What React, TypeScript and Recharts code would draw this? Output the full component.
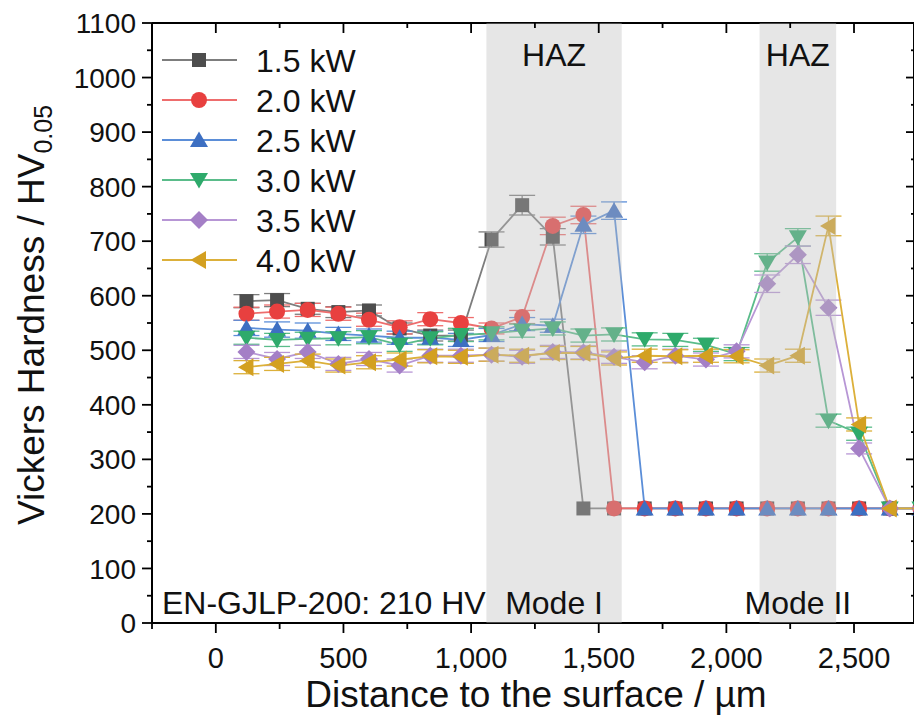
import React from 'react';
import { LineChart, Line, XAxis, YAxis, ErrorBar, ReferenceArea, Legend } from 'recharts';

// ---------- data ----------
const distances = [120, 240, 360, 480, 600, 720, 840, 960, 1080, 1200, 1320, 1440, 1560, 1680, 1800, 1920, 2040, 2160, 2280, 2400, 2520, 2640, 2760];

const hv15 = [590, 592, 576, 570, 573, 540, 527, 527, 703, 766, 708, 210, 210, 210, 210, 210, 210, 210, 210, 210, 210, 210, 210];
const err15 = [12, 12, 10, 10, 10, 10, 10, 10, 14, 18, 15, 0, 0, 0, 0, 0, 0, 0, 0, 0, 0, 0, 0];

const hv20 = [567, 571, 574, 567, 556, 542, 557, 550, 540, 561, 728, 748, 210, 210, 210, 210, 210, 210, 210, 210, 210, 210, 210];
const err20 = [12, 12, 12, 12, 12, 12, 12, 10, 10, 12, 16, 16, 0, 0, 0, 0, 0, 0, 0, 0, 0, 0, 0];

const hv25 = [541, 538, 536, 530, 527, 523, 523, 519, 528, 548, 545, 730, 756, 210, 210, 210, 210, 210, 210, 210, 210, 210, 210];
const err25 = [14, 14, 14, 12, 12, 12, 12, 12, 12, 12, 12, 16, 16, 0, 0, 0, 0, 0, 0, 0, 0, 0, 0];

const hv30 = [523, 519, 521, 522, 524, 510, 522, 528, 531, 536, 540, 527, 529, 520, 519, 510, 493, 661, 707, 371, 347, 210, 210];
const err30 = [12, 12, 12, 12, 12, 12, 12, 12, 12, 12, 12, 12, 12, 12, 12, 12, 12, 16, 16, 12, 12, 0, 0];

const hv35 = [497, 484, 497, 475, 484, 472, 490, 490, 492, 488, 497, 496, 488, 478, 490, 483, 498, 622, 675, 578, 320, 210, 210];
const err35 = [12, 12, 12, 12, 12, 12, 12, 12, 12, 12, 12, 12, 12, 12, 12, 12, 12, 16, 16, 14, 10, 0, 0];

const hv40 = [469, 475, 481, 472, 478, 483, 489, 488, 492, 490, 495, 495, 485, 490, 489, 490, 489, 472, 490, 728, 364, 210, 210];
const err40 = [12, 12, 12, 12, 12, 12, 12, 12, 12, 12, 12, 12, 12, 12, 12, 12, 12, 12, 12, 18, 12, 0, 0];

const seriesNames = ['1.5 kW', '2.0 kW', '2.5 kW', '3.0 kW', '3.5 kW', '4.0 kW'];
const seriesValues = [hv15, hv20, hv25, hv30, hv35, hv40];
const seriesErrors = [err15, err20, err25, err30, err35, err40];

const xTicks = [-250, 0, 250, 500, 750, 1000, 1250, 1500, 1750, 2000, 2250, 2500];
const yTicks = [0, 50, 100, 150, 200, 250, 300, 350, 400, 450, 500, 550, 600, 650, 700, 750, 800, 850, 900, 950, 1000, 1050, 1100];

const hazZones = [
  { from: 1060, to: 1590, label: 'HAZ', mode: 'Mode I' },
  { from: 2130, to: 2430, label: 'HAZ', mode: 'Mode II' },
];

const baseMaterialText = 'EN-GJLP-200: 210 HV';
const xTitle = 'Distance to the surface / µm';
const yTitleMain = 'Vickers Hardness / HV';
const yTitleSub = '0.05';

// ---------- styles ----------
const FONT = '"Liberation Sans", Arial, Helvetica, sans-serif';
const styles = [
  { marker: '#4d4d4d', line: '#7d7d7d', shape: 'square' },
  { marker: '#e8403f', line: '#ee6d6d', shape: 'circle' },
  { marker: '#3d6fc2', line: '#5b8ed8', shape: 'up' },
  { marker: '#2eaa6b', line: '#5abc8a', shape: 'down' },
  { marker: '#a47fc6', line: '#b796d5', shape: 'diamond' },
  { marker: '#d3a021', line: '#dcb03a', shape: 'left' },
];

const seriesRows = seriesValues.map((vals, s) =>
  distances.map((x, i) => ({ x, hv: vals[i], err: seriesErrors[s][i] }))
);

function Marker({ shape, cx, cy, fill }: { shape: string; cx: number; cy: number; fill: string }) {
  switch (shape) {
    case 'square':
      return <rect x={cx - 7} y={cy - 7} width={14} height={14} fill={fill} />;
    case 'circle':
      return <circle cx={cx} cy={cy} r={8} fill={fill} />;
    case 'up':
      return <polygon points={`${cx},${cy - 8.5} ${cx + 9},${cy + 7} ${cx - 9},${cy + 7}`} fill={fill} />;
    case 'down':
      return <polygon points={`${cx},${cy + 8.5} ${cx + 9},${cy - 7} ${cx - 9},${cy - 7}`} fill={fill} />;
    case 'diamond':
      return <polygon points={`${cx},${cy - 9} ${cx + 9},${cy} ${cx},${cy + 9} ${cx - 9},${cy}`} fill={fill} />;
    case 'left':
      return <polygon points={`${cx - 8.5},${cy} ${cx + 7},${cy - 9} ${cx + 7},${cy + 9}`} fill={fill} />;
    default:
      return null;
  }
}

// ---------- ticks ----------
const BottomTick = (props: any) => {
  const { x, y, payload } = props;
  const v = payload.value;
  const major = v % 500 === 0;
  return (
    <g>
      <line x1={x} x2={x} y1={y} y2={y + (major ? 10 : 6)} stroke="#000" strokeWidth={1.8} />
      {major && v >= 0 && (
        <text x={x} y={y + 45} textAnchor="middle" fontSize={29} fontFamily={FONT} fill="#111">
          {v.toLocaleString('en-US')}
        </text>
      )}
    </g>
  );
};

const TopTick = (props: any) => {
  const { x, y, payload } = props;
  const major = payload.value % 500 === 0;
  return <line x1={x} x2={x} y1={y} y2={y + (major ? 10 : 5)} stroke="#000" strokeWidth={1.8} />;
};

const LeftTick = (props: any) => {
  const { x, y, payload } = props;
  const v = payload.value;
  const major = v % 100 === 0;
  return (
    <g>
      <line x1={x} x2={x - (major ? 10 : 5)} y1={y} y2={y} stroke="#000" strokeWidth={1.8} />
      {major && (
        <text x={x - 16} y={y} dy="0.36em" textAnchor="end" fontSize={28} fontFamily={FONT} fill="#111">
          {v}
        </text>
      )}
    </g>
  );
};

const RightTick = (props: any) => {
  const { x, y, payload } = props;
  const major = payload.value % 100 === 0;
  return <line x1={x} x2={x - (major ? 8 : 3)} y1={y} y2={y} stroke="#000" strokeWidth={1.8} />;
};

// ---------- labels ----------
const XTitle = (props: any) => {
  const vb = props.viewBox || {};
  const cx = vb.x + vb.width / 2;
  return (
    <text x={cx + 3} y={vb.y + 84} textAnchor="middle" fontSize={37} fontFamily={FONT} fill="#111">
      {xTitle}
    </text>
  );
};

const YTitle = (props: any) => {
  const vb = props.viewBox || {};
  const x = 44;
  const y = vb.y + vb.height / 2 - 8;
  return (
    <text x={x} y={y} transform={`rotate(-90, ${x}, ${y})`} textAnchor="middle" fontSize={37} fontFamily={FONT} fill="#111">
      {yTitleMain}
      <tspan fontSize={25} dy={8}>{yTitleSub}</tspan>
    </text>
  );
};

const ZoneLabel = (text: string, mode: string) => (props: any) => {
  const vb = props.viewBox || {};
  const cx = vb.x + vb.width / 2;
  return (
    <g>
      <text x={cx} y={vb.y + 43} textAnchor="middle" fontSize={32} fontFamily={FONT} fill="#111">{text}</text>
      <text x={cx} y={vb.y + vb.height - 9} textAnchor="middle" fontSize={32} fontFamily={FONT} fill="#111">{mode}</text>
    </g>
  );
};

const BaseMaterialLabel = (props: any) => {
  const vb = props.viewBox || {};
  return (
    <text x={vb.x + 10} y={vb.y + vb.height - 9} fontSize={32} fontFamily={FONT} fill="#111">{baseMaterialText}</text>
  );
};

const LegendContent = () => (
  <svg width={230} height={250} style={{ display: 'block', overflow: 'visible' }}>
    {seriesNames.map((name, i) => {
      const cy = 20 + i * 40;
      const st = styles[i];
      return (
        <g key={name}>
          <line x1={12} x2={87} y1={cy} y2={cy} stroke={st.line} strokeWidth={2} />
          <Marker shape={st.shape} cx={49} cy={cy} fill={st.marker} />
          <text x={106} y={cy + 11.5} fontSize={32} fontFamily={FONT} fill="#111">{name}</text>
        </g>
      );
    })}
  </svg>
);

export default function App() {
  return (
    <div style={{ position: 'absolute', left: 0, top: 0, width: 914, height: 719, overflow: 'hidden', background: '#fff' }}>
      <LineChart width={914} height={719} margin={{ top: 23, right: 0, bottom: 0, left: 52 }}>
        <XAxis
          xAxisId="b"
          type="number"
          dataKey="x"
          domain={[-250, 2735]}
          allowDataOverflow
          ticks={xTicks}
          interval={0}
          tickSize={0}
          tickMargin={0}
          tickLine={false}
          tick={BottomTick}
          height={96}
          axisLine={{ stroke: '#000', strokeWidth: 2 }}
          label={XTitle}
        />
        <XAxis
          xAxisId="t"
          orientation="top"
          mirror
          type="number"
          dataKey="x"
          domain={[-250, 2735]}
          allowDataOverflow
          ticks={xTicks}
          interval={0}
          tickSize={0}
          tickMargin={0}
          tickLine={false}
          tick={TopTick}
          axisLine={{ stroke: '#000', strokeWidth: 2 }}
        />
        <YAxis
          yAxisId="l"
          type="number"
          domain={[0, 1100]}
          allowDataOverflow
          ticks={yTicks}
          interval={0}
          tickSize={0}
          tickMargin={0}
          tickLine={false}
          tick={LeftTick}
          width={100}
          axisLine={{ stroke: '#000', strokeWidth: 2 }}
          label={YTitle}
        />
        <YAxis
          yAxisId="r"
          orientation="right"
          mirror
          type="number"
          domain={[0, 1100]}
          allowDataOverflow
          ticks={yTicks}
          interval={0}
          tickSize={0}
          tickMargin={0}
          tickLine={false}
          tick={RightTick}
          axisLine={{ stroke: '#000', strokeWidth: 2 }}
        />
        {seriesRows.map((rows, i) => (
          <Line
            key={seriesNames[i]}
            xAxisId="b"
            yAxisId="l"
            data={rows}
            dataKey="hv"
            name={seriesNames[i]}
            type="linear"
            stroke={styles[i].line}
            strokeWidth={1.8}
            isAnimationActive={false}
            activeDot={false}
            dot={(p: any) => (
              <Marker key={`d-${i}-${p.index}`} shape={styles[i].shape} cx={p.cx} cy={p.cy} fill={styles[i].marker} />
            )}
          >
            <ErrorBar dataKey="err" direction="y" width={13} stroke={styles[i].line} strokeWidth={1.3} isAnimationActive={false} />
          </Line>
        ))}
        {hazZones.map((z) => (
          <ReferenceArea
            key={z.mode}
            xAxisId="b"
            yAxisId="l"
            x1={z.from}
            x2={z.to}
            fill="#bcbcbc"
            fillOpacity={0.38}
            stroke="none"
            ifOverflow="hidden"
            zIndex={1000}
            label={ZoneLabel(z.label, z.mode)}
          />
        ))}
        <ReferenceArea
          xAxisId="b"
          yAxisId="l"
          x1={-250}
          x2={-240}
          fill="none"
          fillOpacity={0}
          stroke="none"
          label={BaseMaterialLabel}
        />
        <Legend
          layout="horizontal"
          verticalAlign="middle"
          align="center"
          content={LegendContent}
          wrapperStyle={{ position: 'absolute', left: 150, top: 40, width: 230, height: 250 }}
        />
      </LineChart>
    </div>
  );
}
